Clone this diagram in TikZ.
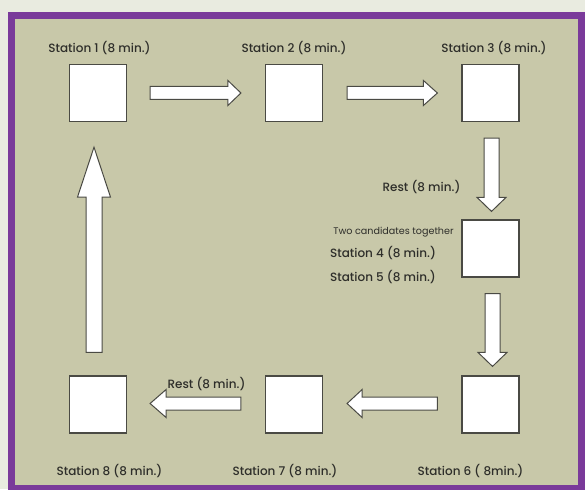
\documentclass[tikz,border=0pt]{standalone}
\usepackage{fontspec}
\setmainfont{Poppins}
\IfFontExistsTF{Poppins Medium}
  {\newfontfamily\labelfont{Poppins Medium}}
  {\newfontfamily\labelfont{Poppins}[FakeBold=0.4]}
\usetikzlibrary{calc}

\definecolor{pagebg}{HTML}{E9EBE0}
\definecolor{panel}{HTML}{C8C8A9}
\definecolor{framepurple}{HTML}{7A3A9A}
\definecolor{ink}{HTML}{2E2E2A}
\definecolor{edge}{HTML}{4A4A44}

\tikzset{
  stationbox/.style={draw=edge, line width=1.2pt, fill=white,
    minimum width=57pt, minimum height=57pt, inner sep=0pt},
  caption/.style={text=ink, font=\labelfont\fontsize{12}{14}\selectfont, inner sep=0pt},
  smallcaption/.style={text=ink, font=\fontsize{9.6}{11}\selectfont, inner sep=0pt},
  blockarrow/.style={draw=edge, line width=1pt, fill=white, line join=miter},
}

% block arrow from #1 to tip #2; #3 half body width, #4 head length, #5 half head width
\newcommand\blockarrow[5]{%
  \coordinate (ba-h) at ($(#2)!#4!(#1)$);
  \draw[blockarrow]
    ($(#1)!#3!90:(#2)$) -- ($(ba-h)!#3!-90:(#1)$) -- ($(ba-h)!#5!-90:(#1)$) --
    (#2) --
    ($(ba-h)!#5!90:(#1)$) -- ($(ba-h)!#3!90:(#1)$) -- ($(#1)!#3!-90:(#2)$) -- cycle;}

\begin{document}
\begin{tikzpicture}[x=1pt,y=1pt]
  \useasboundingbox (0,0) rectangle (585,-489);
  \fill[pagebg] (0,0) rectangle (585,-489);
  % framed panel
  \fill[framepurple] (8,-12) rectangle (592,-496);
  \fill[panel] (15,-19) rectangle (578,-485);

  % stations
  \node[stationbox] (s1) at (98,-93) {};
  \node[stationbox] (s2) at (294,-93) {};
  \node[stationbox] (s3) at (490.5,-93) {};
  \node[stationbox] (s45) at (490.5,-248.5) {};
  \node[stationbox] (s6) at (490.5,-404.5) {};
  \node[stationbox] (s7) at (294,-404.5) {};
  \node[stationbox] (s8) at (98,-404.5) {};

  % captions
  \node[caption] (l1) at (99.5,-48) {Station 1 (8 min.)};
  \node[caption] (l2) at (294,-48) {Station 2 (8 min.)};
  \node[caption] (l3) at (494,-48) {Station 3 (8 min.)};
  \node[caption] (rest1) at (421.5,-187) {Rest (8 min.)};
  \node[smallcaption] (two) at (393.5,-232) {Two candidates together};
  \node[caption] (l4) at (383,-253) {Station 4 (8 min.)};
  \node[caption] (l5) at (383,-277) {Station 5 (8 min.)};
  \node[caption] (rest2) at (206.5,-384) {Rest (8 min.)};
  \node[caption] (l8) at (109.5,-471) {Station 8 (8 min.)};
  \node[caption] (l7) at (285,-471) {Station 7 (8 min.)};
  \node[caption] (l6) at (470.5,-471) {Station 6 ( 8min.)};

  % arrow end points
  \coordinate (a12s) at ($(s1.east)+(23,0)$);
  \coordinate (a12t) at ($(s2.west)+(-24,0)$);
  \coordinate (a23s) at ($(s2.east)+(24,0)$);
  \coordinate (a23t) at ($(s3.west)+(-24,0)$);
  \coordinate (a34s) at ($(s3.south)+(1,-16)$);
  \coordinate (a34t) at ($(s45.north)+(1,8)$);
  \coordinate (a46s) at ($(s45.south)+(2,-16)$);
  \coordinate (a46t) at ($(s6.north)+(2,9)$);
  \coordinate (a67s) at ($(s6.west)+(-24,1)$);
  \coordinate (a67t) at ($(s7.east)+(24,1)$);
  \coordinate (a78s) at ($(s7.west)+(-24,1)$);
  \coordinate (a78t) at ($(s8.east)+(23,1)$);
  \coordinate (a81s) at ($(s8.north)+(-4,23)$);
  \coordinate (a81t) at ($(s1.south)+(-4,-25)$);

  % flow arrows
  \blockarrow{a12s}{a12t}{6.5pt}{13pt}{12.5pt}
  \blockarrow{a23s}{a23t}{6.5pt}{14pt}{12.5pt}
  \blockarrow{a34s}{a34t}{7.5pt}{14pt}{14.5pt}
  \blockarrow{a46s}{a46t}{7.5pt}{14pt}{14.5pt}
  \blockarrow{a67s}{a67t}{6.5pt}{15pt}{14pt}
  \blockarrow{a78s}{a78t}{6.5pt}{16pt}{14pt}
  \blockarrow{a81s}{a81t}{8pt}{50pt}{16.5pt}
\end{tikzpicture}
\end{document}
